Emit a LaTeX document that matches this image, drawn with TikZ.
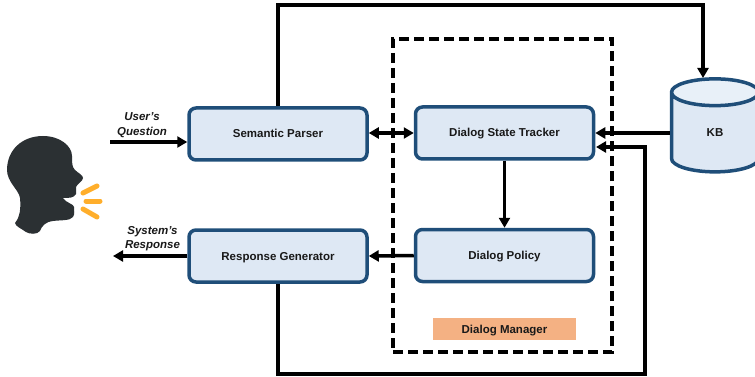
\documentclass[tikz,border=0pt]{standalone}
\usepackage{fontspec}
\setmainfont{Liberation Sans}
\usetikzlibrary{arrows.meta,shapes.geometric}

\begin{document}
\begin{tikzpicture}[
x=1pt, y=1pt,
node distance=100pt,
>={Triangle[length=10pt,width=11pt]},
module/.style={rectangle, rounded corners=7pt, draw=blue1, fill=blue2, line width=3.5pt, minimum width=178pt, minimum height=52pt, text height=8pt, text depth=0pt, font=\fontsize{11.5}{13}\selectfont\bfseries, text=black!90},
store/.style={cylinder, shape border rotate=90, aspect=1.15, cylinder uses custom fill, cylinder body fill=blue2, cylinder end fill=blue3, draw=blue1, line width=3.5pt, minimum width=87pt, minimum height=93pt, text height=8pt, text depth=6pt, font=\fontsize{11.5}{13}\selectfont\bfseries, text=black!90},
caption/.style={align=center, font=\fontsize{11.5}{14.5}\selectfont\bfseries\itshape, text=black!90},
tag/.style={rectangle, fill=orange1, minimum width=143pt, minimum height=22pt, text height=8pt, text depth=0pt, font=\fontsize{11.5}{13}\selectfont\bfseries, text=black!90},
wire/.style={line width=3.5pt},
spark/.style={line width=5pt, line cap=round, draw=orange2}
]
\definecolor{blue1}{HTML}{1F4E79}
\definecolor{blue2}{HTML}{DEE8F4}
\definecolor{blue3}{HTML}{E8F0F8}
\definecolor{orange1}{HTML}{F4B183}
\definecolor{orange2}{HTML}{FFAE2B}
\definecolor{head}{HTML}{2B3033}
\useasboundingbox (0,0) rectangle (755,-377);
%Manager
\node[draw, dash pattern=on 10pt off 5pt, line width=3.5pt, minimum width=219pt, minimum height=313pt] (dm) at (502.5,-195.5) {};
%Nodes
\node[module]      (sp)     at (278,-134)                 {Semantic Parser};
\node[module]      (dst)    [right of =sp, xshift=126.5pt, yshift=1pt]   {Dialog State Tracker};
\node[module]      (dp)     [below of =dst, yshift=-22.5pt]  {Dialog Policy};
\node[module]      (rg)     [below of =sp, yshift=-22pt]     {Response Generator};
\node[store]       (kb)     at (715,-135.5)               {KB};
\node[tag]         (dmtag)  at (504.5,-329)               {Dialog Manager};
\node[caption]     (uq)     at (142,-125)                 {User's\\Question};
\node[caption]     (sr)     at (152.5,-238.5)             {System's\\Response};
%Free ends
\coordinate (uin)   at (110,-142);
\coordinate (sout)  at (113,-256);
\coordinate (kbtop) at (703,-78);
\coordinate (dstin) at (596,-147);
\coordinate (turn)  at (645,-147);
%Lines
\draw[wire, ->] (uin) -- (uin -| sp.west);
\draw[wire, ->] (rg.west) -- (sout);
\draw[wire, <->] (sp.east |- dst.east) -- (dst.west);
\draw[wire, ->] (dst.south) -- (dp.north);
\draw[wire, ->] (dp.west) -- (rg.east);
\draw[wire, ->] (kb.west |- dst.east) -- (dst.east);
\draw[wire, ->] (sp.north) -- ++(0,101) -| (kbtop);
\draw[wire, ->] (rg.south) -- ++(0,-90) -| (turn) -- (dstin);
%Speaker
\fill[head] (43,-136) .. controls (60,-136) and (72,-146) .. (72,-156)
  .. controls (72,-163) and (72,-167) .. (75,-170)
  .. controls (78,-173) and (83,-175) .. (83,-178)
  .. controls (83,-181) and (77,-184) .. (76,-187)
  .. controls (75,-190) and (77,-192) .. (76,-194)
  .. controls (74,-198) and (69,-198) .. (63,-198)
  .. controls (66,-203) and (74,-204) .. (74,-207)
  .. controls (74,-210) and (75,-214) .. (73,-217)
  .. controls (70,-221) and (60,-220) .. (53,-221)
  .. controls (45,-222) and (42,-226) .. (40,-231)
  .. controls (37,-235) and (29,-234) .. (26,-232)
  .. controls (22,-229) and (15,-226) .. (15,-223)
  .. controls (20,-217) and (21,-208) .. (20,-198)
  .. controls (19,-190) and (7,-182) .. (7,-170)
  .. controls (7,-150) and (22,-136) .. (43,-136) -- cycle;
\draw[spark] (83,-193) -- (97,-186);
\draw[spark] (86,-201) -- (100,-201);
\draw[spark] (83,-209) -- (97,-217);
\end{tikzpicture}
\end{document}
